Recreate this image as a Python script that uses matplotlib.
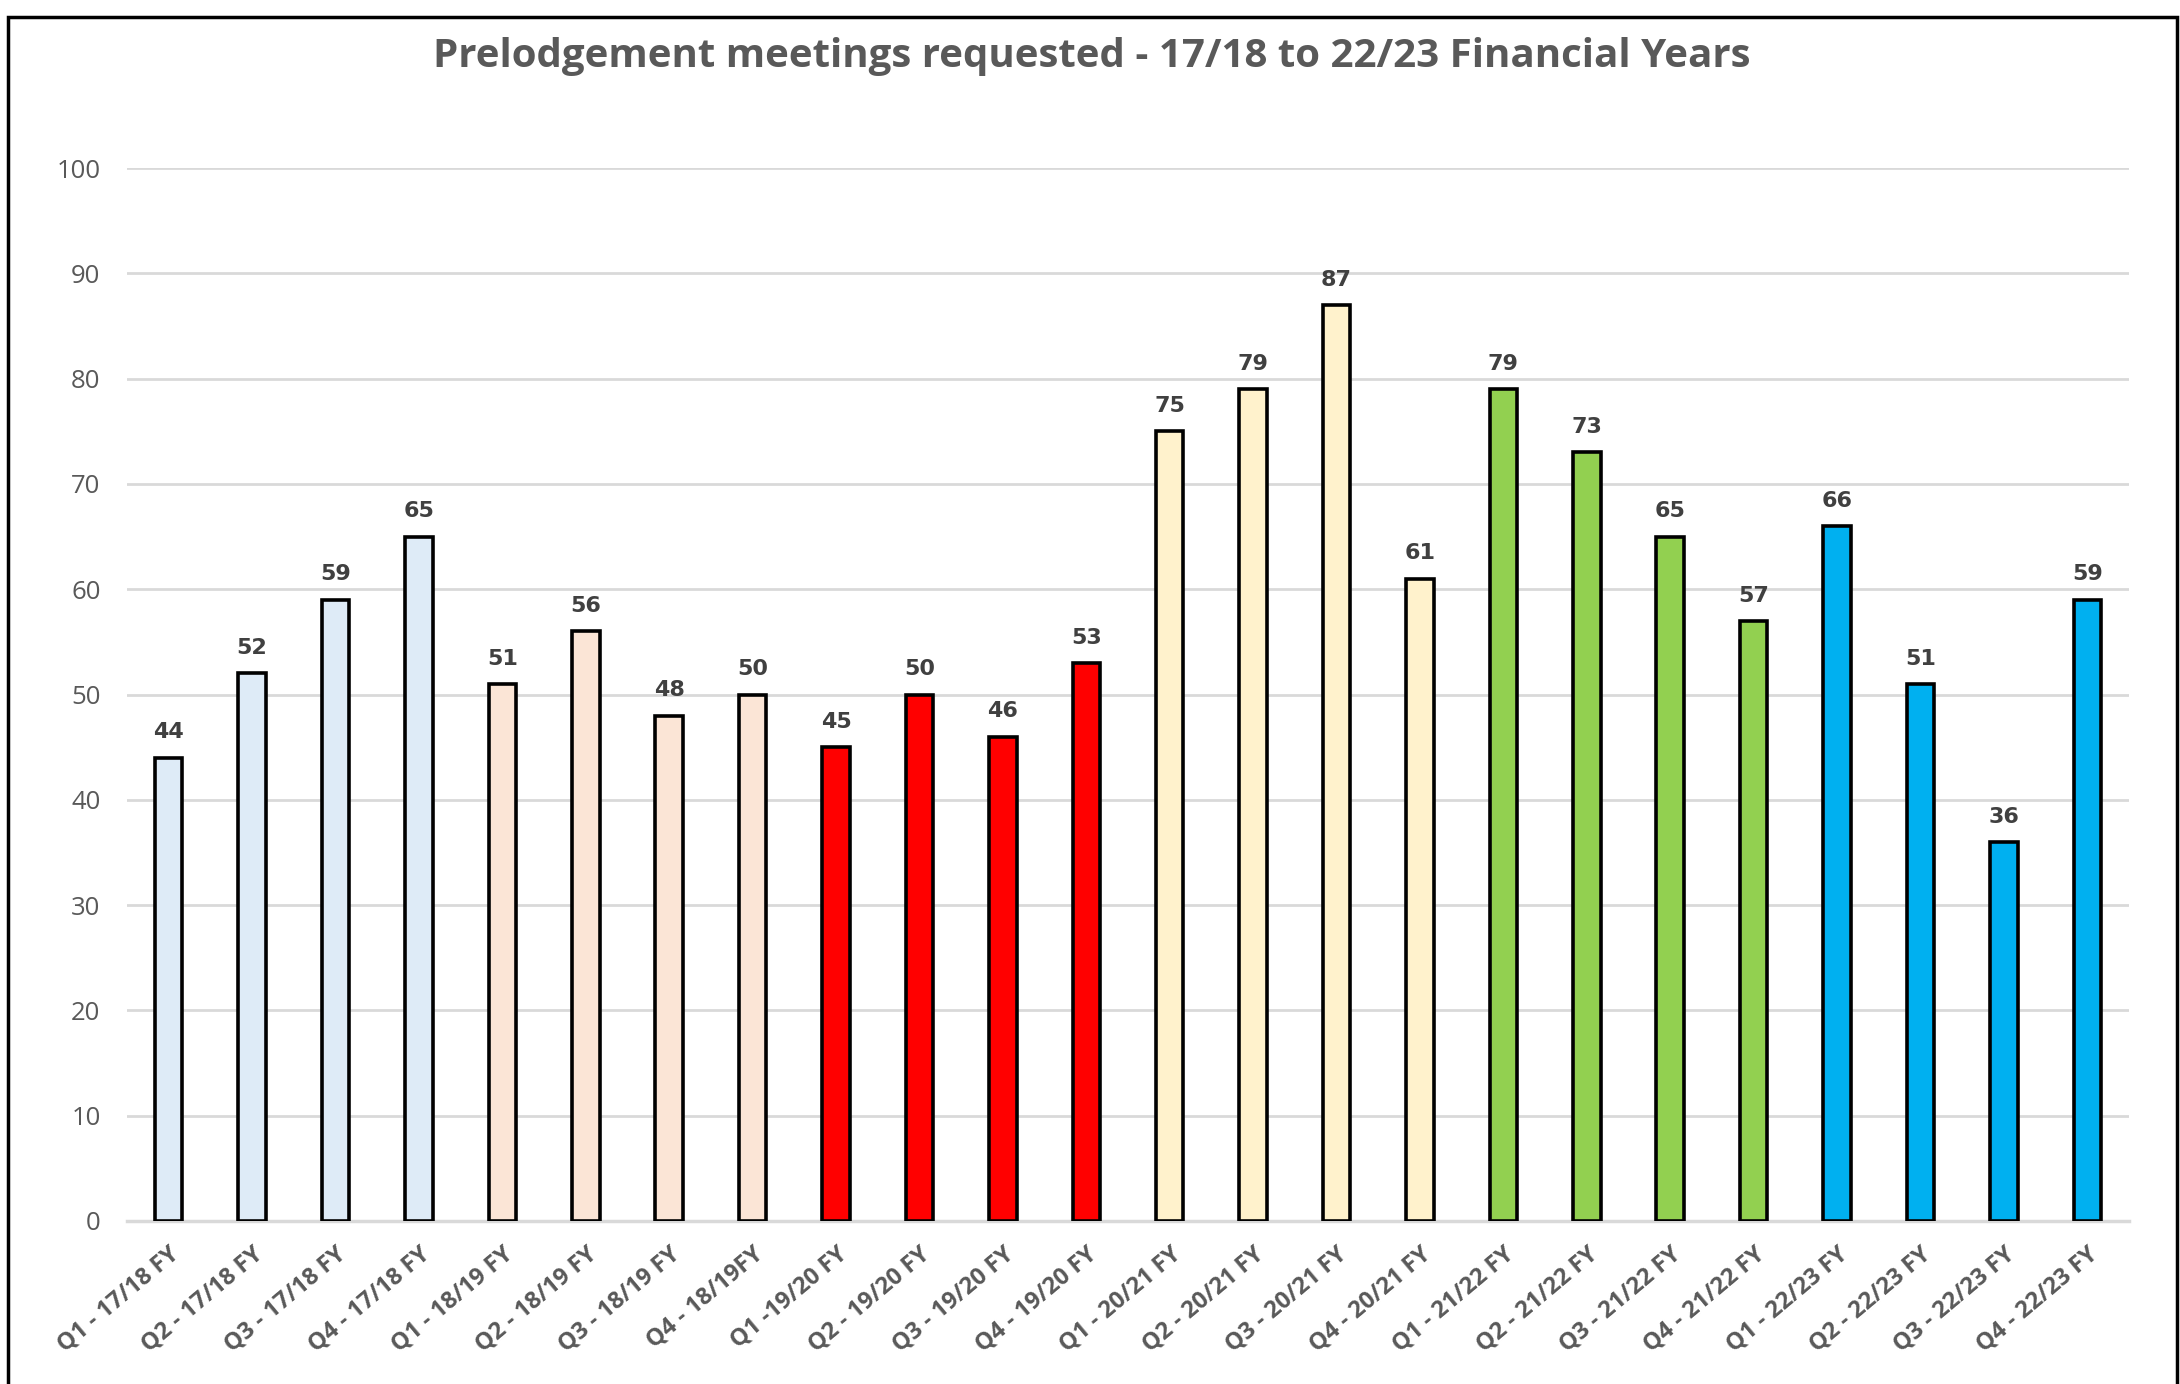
import matplotlib
matplotlib.use("Agg")
import matplotlib.pyplot as plt
from matplotlib.patches import Rectangle

categories = ["Q1 - 17/18 FY", "Q2 - 17/18 FY", "Q3 - 17/18 FY", "Q4 - 17/18 FY",
              "Q1 - 18/19 FY", "Q2 - 18/19 FY", "Q3 - 18/19 FY", "Q4 - 18/19FY",
              "Q1 -19/20 FY", "Q2 - 19/20 FY", "Q3 - 19/20 FY", "Q4 - 19/20 FY",
              "Q1 - 20/21 FY", "Q2 - 20/21 FY", "Q3 - 20/21 FY", "Q4 - 20/21 FY",
              "Q1 - 21/22 FY", "Q2 - 21/22 FY", "Q3 - 21/22 FY", "Q4 - 21/22 FY",
              "Q1 - 22/23 FY", "Q2 - 22/23 FY", "Q3 - 22/23 FY", "Q4 - 22/23 FY"]
values = [44, 52, 59, 65, 51, 56, 48, 50, 45, 50, 46, 53,
          75, 79, 87, 61, 79, 73, 65, 57, 66, 51, 36, 59]
year_colors = ["#DEEBF7", "#FBE5D6", "#FF0000", "#FFF2CC", "#92D050", "#00B0F0"]
colors = [year_colors[i // 4] for i in range(len(values))]
yticks = [0, 10, 20, 30, 40, 50, 60, 70, 80, 90, 100]
title = "Prelodgement meetings requested - 17/18 to 22/23 Financial Years"

W, H = 2180, 1384
fig = plt.figure(figsize=(W / 100, H / 100), dpi=100)
fig.patch.set_facecolor("white")

ax = fig.add_axes([127 / W, 1 - 1221 / H, (2129 - 127) / W, (1221 - 168) / H])
x = list(range(len(values)))
bars = ax.bar(x, values, width=0.33, color=colors, edgecolor="black", linewidth=2.6, zorder=3)

ax.set_xlim(-0.5, len(values) - 0.5)
ax.set_ylim(0, 100)
ax.set_yticks(yticks)
ax.set_yticklabels([str(t) for t in yticks], fontsize=18.5, color="#595959", family="Open Sans")
ax.yaxis.grid(True, color="#D9D9D9", linewidth=2, zorder=0)
ax.set_axisbelow(True)
for s in ["top", "right", "left"]:
    ax.spines[s].set_visible(False)
ax.spines["bottom"].set_color("#D9D9D9")
ax.spines["bottom"].set_linewidth(2.5)
ax.tick_params(axis="y", length=0, pad=19)
ax.tick_params(axis="x", length=0, pad=15)
ax.set_xticks(x)
ax.set_xticklabels(categories, rotation=40, ha="right", rotation_mode="anchor",
                   fontsize=17, fontweight="bold", color="#595959", family="Open Sans")

for xi, v in zip(x, values):
    ax.annotate(str(v), (xi, v), xytext=(0, 11), textcoords="offset points",
                ha="center", va="bottom", fontsize=16, fontweight="bold",
                color="#404040", family="DejaVu Sans")

fig.text(1092 / W, 1 - 57 / H, title, ha="center", va="center", fontsize=29,
         fontweight="bold", color="#595959", family="Open Sans")

fig.patches.append(Rectangle((8 / W, -0.05), (2177 - 8) / W, 1 - 17 / H + 0.05,
                             transform=fig.transFigure, fill=False,
                             edgecolor="black", linewidth=2.5))

fig.savefig("out.png", dpi=100)
